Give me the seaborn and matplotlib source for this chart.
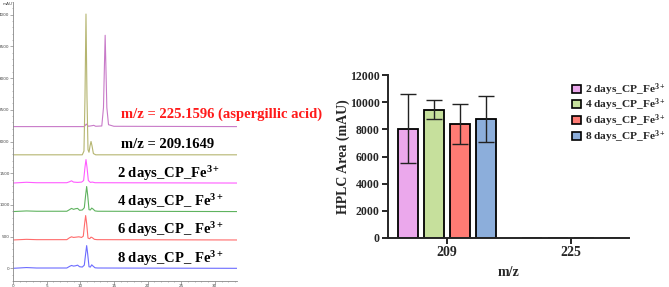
import numpy as np
import pandas as pd
import matplotlib
matplotlib.use('Agg')
import matplotlib.pyplot as plt
import seaborn as sns
from matplotlib.patches import Patch
from matplotlib.ticker import MultipleLocator

sns.set_style('ticks')
plt.rcParams['font.family'] = ['Liberation Serif', 'DejaVu Serif']
plt.rcParams['mathtext.fontset'] = 'custom'
plt.rcParams['mathtext.rm'] = 'Liberation Serif:bold'
plt.rcParams['mathtext.bf'] = 'Liberation Serif:bold'
plt.rcParams['mathtext.it'] = 'Liberation Serif:bold'

# ---- chromatograms (retention time in min, signal above own baseline in mAU)
trace_colors = ['#C87AC8', '#B5B570', '#FF5CFF', '#5FB35F', '#FF6C6C', '#6C6CFF']
baselines = [2235, 1790, 1345, 895, 447, 0]

t_aa = [0, 10.6, 10.9, 11.2, 11.8, 12.0, 12.3, 13.2, 13.45, 13.6, 13.7, 13.8, 13.95, 14.2, 15, 33.3]
y_aa = [0, 0, 40, 5, 15, 20, 5, 10, 300, 1000, 1440, 1000, 300, 30, 5, 0]

t_209 = [0, 10.3, 10.55, 10.7, 10.85, 11.0, 11.15, 11.3, 11.45, 11.6, 11.75, 11.95, 12.3, 33.3]
y_209 = [0, 0, 60, 900, 2220, 900, 80, 40, 140, 210, 140, 20, 0, 0]

t_d2 = [0, 2, 3.5, 8.0, 8.4, 8.7, 9.0, 9.6, 10.2, 10.5, 10.7, 10.85, 11.0, 11.2, 11.5, 11.8, 12.2, 33.3]
y_d2 = [0, 12, 5, 5, 20, 35, 15, 10, 15, 40, 250, 370, 250, 40, 10, 15, 5, 0]

t_d4 = [0, 2, 3.5, 8.0, 8.4, 8.7, 9.0, 9.3, 9.6, 9.9, 10.3, 10.6, 10.8, 10.95, 11.1, 11.3, 11.5, 11.7, 11.9, 12.2, 12.6, 33.3]
y_d4 = [0, 10, 5, 5, 30, 50, 35, 45, 50, 20, 25, 60, 260, 395, 260, 30, 25, 55, 40, 10, 5, 0]

t_d6 = [0, 2, 3.5, 8.0, 8.4, 8.7, 9.0, 9.4, 9.8, 10.2, 10.45, 10.65, 10.8, 10.95, 11.15, 11.4, 11.6, 11.8, 12.1, 12.5, 33.3]
y_d6 = [0, 10, 5, 5, 35, 50, 40, 45, 50, 40, 60, 260, 385, 260, 30, 20, 45, 35, 10, 5, 0]

t_d8 = [0, 2, 3.5, 8.0, 8.4, 8.7, 9.0, 9.3, 9.6, 9.9, 10.3, 10.6, 10.8, 10.95, 11.1, 11.3, 11.5, 11.7, 11.9, 12.2, 12.6, 33.3]
y_d8 = [0, 12, 5, 5, 30, 45, 35, 40, 50, 25, 20, 50, 230, 358, 230, 25, 20, 55, 35, 8, 5, 0]

trace_t = [t_aa, t_209, t_d2, t_d4, t_d6, t_d8]
trace_y = [y_aa, y_209, y_d2, y_d4, y_d6, y_d8]

trace_labels = [r'm/z = 225.1596 (aspergillic acid)', r'm/z = 209.1649',
                r'2 days_CP_Fe$^{3+}$', r'4 days_CP_ Fe$^{3+}$',
                r'6 days_CP_ Fe$^{3+}$', r'8 days_CP_ Fe$^{3+}$']
label_x = [16.0, 16.0, 15.45, 15.45, 15.5, 15.5]
label_y = [2380, 1890, 1427, 980, 537, 84]
label_colors = ['#FF1A1A', 'black', 'black', 'black', 'black', 'black']

# ---- HPLC peak areas
mz = ['209', '225']
groups = [r'2 days_CP_Fe$^{3+}$', r'4 days_CP_Fe$^{3+}$', r'6 days_CP_Fe$^{3+}$', r'8 days_CP_Fe$^{3+}$']
area_209 = [8050, 9450, 8400, 8750]
area_225 = [0, 0, 0, 0]
sd_209 = [2550, 700, 1500, 1700]
sd_225 = [0, 0, 0, 0]
bar_colors = ['#EBA8EC', '#C6E09C', '#FF7B74', '#8CAEDB']

fig = plt.figure(figsize=(6.69, 2.87), dpi=100)

# left panel
ax1 = fig.add_axes([13 / 669, 1 - 281 / 287, 224 / 669, 279 / 287])
for t, y, b, c in zip(trace_t, trace_y, baselines, trace_colors):
    df_tr = pd.DataFrame({'t': t, 'y': np.array(y) + b})
    sns.lineplot(data=df_tr, x='t', y='y', color=c, lw=0.8, ax=ax1, estimator=None, sort=False)
for s, x, y, c in zip(trace_labels, label_x, label_y, label_colors):
    ax1.text(x, y, s, color=c, fontsize=10.5, fontweight='bold', va='baseline', ha='left')
ax1.set_xlim(0, 33.3)
ax1.set_ylim(-200, 4200)
ax1.xaxis.set_major_locator(MultipleLocator(5))
ax1.xaxis.set_minor_locator(MultipleLocator(1))
ax1.yaxis.set_major_locator(MultipleLocator(500))
ax1.yaxis.set_minor_locator(MultipleLocator(100))
ax1.set_xlabel('')
ax1.set_ylabel('')
for sp in ['top', 'right']:
    ax1.spines[sp].set_visible(False)
for sp in ['left', 'bottom']:
    ax1.spines[sp].set_color('#888888')
    ax1.spines[sp].set_linewidth(0.6)
ax1.tick_params(which='major', length=2, width=0.5, color='#888888', labelsize=3, pad=0.5,
                labelcolor='#444444', labelfontfamily='DejaVu Sans')
ax1.tick_params(which='minor', length=1, width=0.4, color='#888888')
ax1.text(-0.045, 1.0, 'mAU', transform=ax1.transAxes, fontsize=3, color='#444444',
         family='DejaVu Sans', ha='left', va='top')

# right panel
rows = []
for g, a, s in zip(groups, area_209, sd_209):
    rows.append({'mz': mz[0], 'group': g, 'area': a, 'sd': s})
for g, a, s in zip(groups, area_225, sd_225):
    rows.append({'mz': mz[1], 'group': g, 'area': a, 'sd': s})
df = pd.DataFrame(rows)

ax2 = fig.add_axes([388 / 669, 1 - 238 / 287, 241 / 669, 163 / 287])
sns.barplot(data=df, x='mz', y='area', hue='group', order=mz, hue_order=groups,
            palette=bar_colors, saturation=1, width=0.83, gap=0.22, errorbar=None,
            edgecolor='black', linewidth=1.3, ax=ax2, legend=False)
for cont, g in zip(ax2.containers, groups):
    sub = df[df['group'] == g].set_index('mz').loc[mz]
    for bar, m, s in zip(cont.patches, sub['area'], sub['sd']):
        if s > 0:
            ax2.errorbar(bar.get_x() + bar.get_width() / 2, m, yerr=s, fmt='none',
                         ecolor='#222222', elinewidth=1.0, capsize=5.5, capthick=1.0)
ax2.set_xlim(-0.476, 1.468)
ax2.set_ylim(0, 12000)
ax2.yaxis.set_major_locator(MultipleLocator(2000))
sns.despine(ax=ax2)
for sp in ['left', 'bottom']:
    ax2.spines[sp].set_linewidth(1.4)
ax2.tick_params(length=4, width=1.4, pad=2)
ax2.tick_params(axis='y', labelsize=8.5)
ax2.tick_params(axis='x', labelsize=10)
for lab in ax2.get_xticklabels() + ax2.get_yticklabels():
    lab.set_fontweight('bold')
ax2.set_xlabel('m/z', fontsize=10, fontweight='bold', labelpad=5)
ax2.set_ylabel('HPLC Area (mAU)', fontsize=10, fontweight='bold')
ax2.yaxis.set_label_coords(-0.158, 0.5)

handles = [Patch(facecolor=c, edgecolor='black', linewidth=1.2) for c in bar_colors]
ax2.legend(handles, groups, loc='upper left', bbox_to_anchor=(0.745, 0.99), frameon=False,
           borderaxespad=0, handlelength=0.8, handleheight=0.7, handletextpad=0.35,
           labelspacing=-0.08, prop={'weight': 'bold', 'size': 8.2})

fig.savefig('out.png', dpi=100)
